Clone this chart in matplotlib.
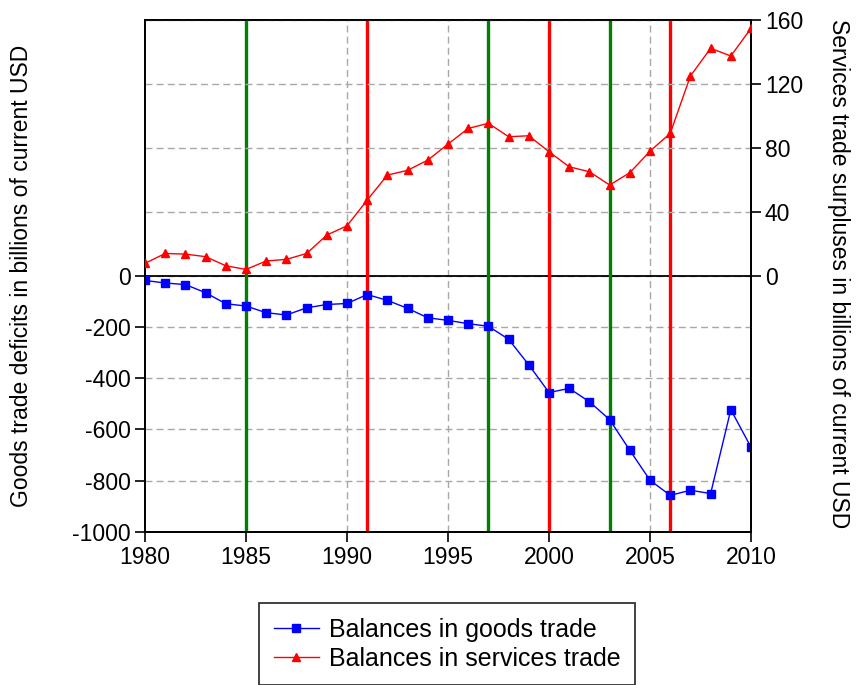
import matplotlib.pyplot as plt
from matplotlib.lines import Line2D

plt.rcParams["font.family"] = ["Liberation Sans", "DejaVu Sans"]
plt.rcParams["axes.unicode_minus"] = False

years = list(range(1980, 2011))

goods = [-18, -28, -34, -66, -109, -118, -144, -153, -125, -112,
         -108, -73, -96, -127, -164, -174, -187, -197, -248, -348,
         -456, -440, -492, -562, -682, -799, -858, -838, -851, -523,
         -670]

services = [7.8, 14, 13.6, 12, 6.3, 4, 9.3, 10.3, 14, 25.5,
            31.3, 47.4, 63, 66, 72.4, 82.4, 92.2, 95.4, 87, 87.6,
            77.6, 68.2, 65.1, 56.8, 64.5, 78, 89.1, 125, 142.3, 137.5,
            154.8]

green_years = [1985, 1997, 2003]
red_years = [1991, 2000, 2006]

left_ticks = [-1000, -800, -600, -400, -200, 0]
right_ticks = [0, 40, 80, 120, 160]
x_ticks = [1980, 1985, 1990, 1995, 2000, 2005, 2010]

fig = plt.figure(figsize=(8.6, 6.85), dpi=100)
ax = fig.add_axes([0.1686, 0.2238, 0.7047, 0.7470])
ax2 = ax.twinx()

grid_kw = dict(color="#a8a8a8", linestyle=(0, (5, 3)), linewidth=1.0, zorder=0)
for t in left_ticks:
    ax.axhline(t, **grid_kw)
for t in right_ticks[1:]:
    ax2.axhline(t, **grid_kw)
for t in x_ticks[1:-1]:
    ax.axvline(t, **grid_kw)

ax.axhline(0, color="black", linewidth=1.3, zorder=1)

for y in green_years:
    ax.axvline(y, color="green", linewidth=2.4, zorder=2)
for y in red_years:
    ax.axvline(y, color="red", linewidth=2.4, zorder=2)

ax.plot(years, goods, color="blue", marker="s", markersize=5.2,
        linewidth=1.0, zorder=3)
ax2.plot(years, services, color="red", marker="^", markersize=5.5,
         linewidth=1.0, zorder=3)

ax.set_xlim(1980, 2010)
ax.set_ylim(-1000, 1000)
ax2.set_ylim(-160, 160)

ax.set_xticks(x_ticks)
ax.set_yticks(left_ticks)
ax2.set_yticks(right_ticks)

for a in (ax, ax2):
    for s in a.spines.values():
        s.set_linewidth(1.3)
    a.tick_params(direction="out", length=7, width=1.2, labelsize=16.5, pad=3)

ax.set_ylabel("Goods trade deficits in billions of current USD", fontsize=16.5)
ax.yaxis.set_label_coords(-0.185, 0.5)
ax2.set_ylabel("Services trade surpluses in billions of current USD",
               fontsize=16.5, rotation=-90)
ax2.yaxis.set_label_coords(1.163, 0.505)

handles = [
    Line2D([], [], color="blue", marker="s", markersize=5.2, linewidth=1.0),
    Line2D([], [], color="red", marker="^", markersize=5.5, linewidth=1.0),
]
leg = fig.legend(handles, ["Balances in goods trade", "Balances in services trade"],
                 loc="upper center", bbox_to_anchor=(0.52, 0.1197),
                 fontsize=18, frameon=True, fancybox=False,
                 edgecolor="black", handlelength=1.8, handletextpad=0.4,
                 borderpad=0.58, labelspacing=0.2, borderaxespad=0)
leg.get_frame().set_linewidth(1.3)

fig.savefig("out.png", dpi=100)
